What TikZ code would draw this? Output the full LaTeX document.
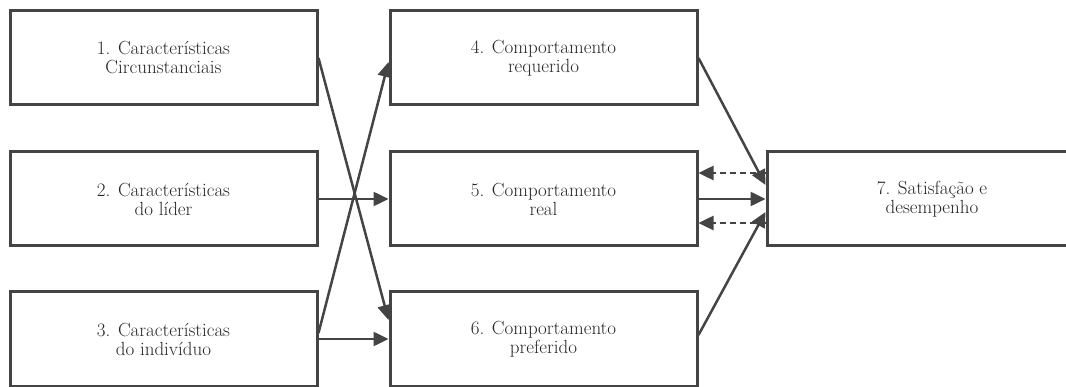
\documentclass[tikz,border=0pt]{standalone}
\usepackage{tikz}
\usetikzlibrary{arrows.meta}

\begin{document}
\begin{tikzpicture}[x=1pt,y=-1pt]
\definecolor{cinza}{HTML}{444444}
\tikzset{basic/.style={draw=cinza,line width=3pt,text=black!85}}
\tikzset{caixa/.style={basic, rectangle, minimum width=307pt, minimum height=94pt, align=center,
  font=\fontsize{19}{19}\selectfont, inner sep=0pt}}
\tikzset{jian/.style={draw=cinza, line width=2.5pt, -{Triangle[length=15pt,width=14pt]}}}
\tikzset{xujian/.style={jian, dash pattern=on 6pt off 4pt}}

\useasboundingbox (0,0) rectangle (1066,387);

\node[caixa](1)at(163.5,58){1. Características\\Circunstanciais};
\node[caixa](2)at(163.5,199){2. Características\\do líder};
\node[caixa](3)at(163.5,339){3. Características\\do indivíduo};
\node[caixa](4)at(543.5,58){4. Comportamento\\requerido};
\node[caixa](5)at(543.5,199){5. Comportamento\\real};
\node[caixa](6)at(543.5,339){6. Comportamento\\preferido};
\node[caixa, minimum width=330pt](7)at(932,199){7. Satisfação e\\desempenho};

\path[jian] (1.east) -- ([yshift=19pt]6.west);
\path[jian] ([yshift=6pt]3.east) -- ([yshift=-4pt]4.west);
\path[jian] (2.east) -- (5.west);
\path[jian] (3.east) -- (6.west);
\path[jian] (4.east) -- ([yshift=14pt]7.west);
\path[jian] (5.east) -- (7.west);
\path[jian] ([yshift=4pt]6.east) -- ([yshift=-13pt]7.west);
\path[xujian] ([yshift=26pt]7.west) -- ([yshift=26pt]5.east);
\path[xujian] ([yshift=-24pt]7.west) -- ([yshift=-24pt]5.east);
\end{tikzpicture}
\end{document}
